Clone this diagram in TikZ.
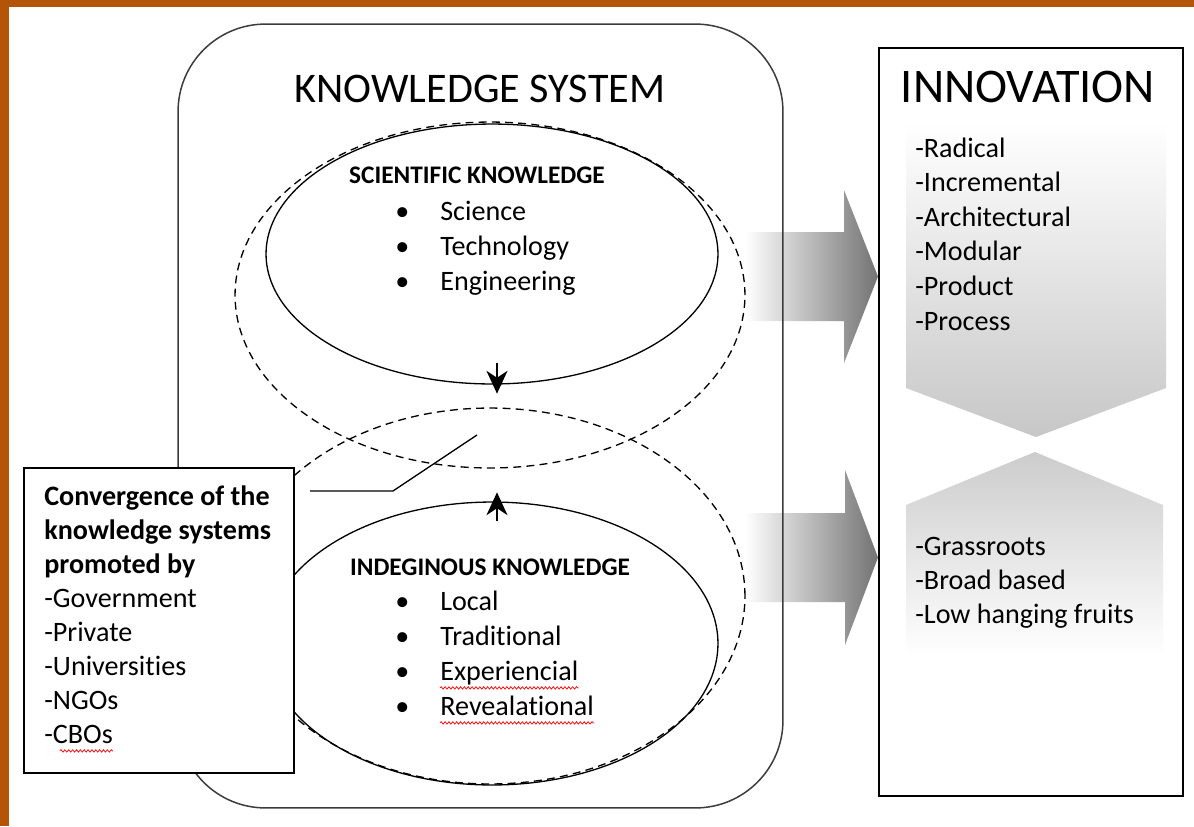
\documentclass[tikz,border=0pt]{standalone}
\usepackage{fontspec}
\setmainfont{Carlito}[Ligatures=NoCommon]
\usetikzlibrary{positioning}
\usetikzlibrary{shapes.geometric}
\usetikzlibrary{arrows.meta}
\usetikzlibrary{decorations.pathmorphing}
\usetikzlibrary{calc}

\definecolor{slideorange}{RGB}{180,84,8}
\definecolor{framegray}{RGB}{60,60,60}

\tikzset{
  txt/.style={font=\fontsize{16}{19}\selectfont, anchor=base west, inner sep=0pt},
  boldtxt/.style={txt, font=\fontsize{16}{19}\selectfont\bfseries},
  head/.style={font=\fontsize{14.4}{17}\selectfont\bfseries, anchor=base, inner sep=0pt},
  bigtitle/.style={font=\fontsize{24}{28}\selectfont, anchor=base, inner sep=0pt},
  solidell/.style={ellipse, draw, line width=0.75pt},
  dashell/.style={ellipse, draw, line width=0.75pt, dash pattern=on 4.5pt off 3pt},
  spell/.style={red, line width=0.4pt, decorate,
    decoration={snake, segment length=2.2pt, amplitude=0.7pt}},
}

\begin{document}
\begin{tikzpicture}[x=0.02cm, y=-0.02cm]
  \useasboundingbox (0,0) rectangle (1194,826);
  \fill[white] (0,0) rectangle (1194,826);
  \fill[slideorange] (0,0) rectangle (1194,7);
  \fill[slideorange] (0,0) rectangle (9,826);

  % shaded arrows towards innovation
  \shade[left color=white, right color=black!55] (745,232) -- (844,232) -- (844,190) -- (878,276.5)
    -- (844,363) -- (844,321) -- (745,321) -- cycle;
  \shade[left color=white, right color=black!55] (745,513) -- (845,513) -- (845,470) -- (878,557.5)
    -- (845,645) -- (845,602) -- (745,602) -- cycle;

  % knowledge system
  \node[draw=framegray, line width=0.85pt, rounded corners=1.75cm,
        minimum width=12.1cm, minimum height=15.68cm] (ks) at (480.5,416) {};
  \node[bigtitle] (kstitle) at (480,102) {KNOWLEDGE SYSTEM};

  \node[dashell, minimum width=10.2cm, minimum height=6.92cm] (upper) at (490,295) {};
  \node[dashell, minimum width=10.2cm, minimum height=7.52cm] (lower) at (490,596) {};
  \node[solidell, minimum width=9.04cm, minimum height=5.2cm] (sci) at (492,254) {};
  \node[solidell, minimum width=9.04cm, minimum height=5.66cm] (ind) at (492,643.5) {};

  \draw[line width=0.75pt, -{Stealth[length=13pt, width=12pt, inset=4pt]}]
    ($(sci.south)+(5,-22)$) -- ($(sci.south)+(5,9)$);
  \draw[line width=0.75pt, -{Stealth[length=13pt, width=12pt, inset=4pt]}]
    ($(ind.north)+(5,20)$) -- ($(ind.north)+(5,-9)$);

  \node[head] (scihead) at (477,183) {SCIENTIFIC KNOWLEDGE};
  \foreach \t [count=\i] in {Science,Technology,Engineering}
    \node[txt] (sci\i) at (440,{185+35*\i}) {\llap{\textbullet\hspace{0.62cm}}\t};

  \node[head] (indhead) at (490,575) {INDEGINOUS KNOWLEDGE};
  \foreach \t [count=\i] in {Local,Traditional,Experiencial,Revealational}
    \node[txt] (ind\i) at (440,{575+35*\i}) {\llap{\textbullet\hspace{0.62cm}}\t};
  \draw[spell] ([yshift=-4.5pt]ind3.base west) -- ([yshift=-4.5pt]ind3.base east);
  \draw[spell] ([yshift=-4.5pt]ind4.base west) -- ([yshift=-4.5pt]ind4.base east);

  % callout pointing at the overlap
  \coordinate (calla) at (310,491);
  \coordinate (callb) at (393,491);
  \coordinate (overlap) at (477,435);
  \draw[line width=0.75pt] (calla) -- (callb) -- (overlap);

  % convergence box
  \node[draw, fill=white, line width=1pt, minimum width=5.4cm, minimum height=6.1cm] (conv) at (159,620.5) {};
  \foreach \t [count=\i from 0] in {Convergence of the,knowledge systems,promoted by}
    \node[boldtxt] (convh\i) at (44,{505+34*\i}) {\t};
  \foreach \t [count=\i from 3] in {Government,Private,Universities,NGOs,CBOs}
    \node[txt] (conv\i) at (44,{505+34*\i}) {-\t};
  \draw[spell] ([yshift=-4.5pt,xshift=9pt]conv7.base west) -- ([yshift=-4.5pt]conv7.base east);

  % innovation
  \node[draw, line width=1pt, minimum width=6.08cm, minimum height=14.96cm] (inno) at (1031,422) {};
  \shade[top color=white, bottom color=black!22] (906,122) -- (1166,122) -- (1166,388) -- (1036,437)
    -- (906,388) -- cycle;
  \shade[top color=black!20, bottom color=white] (1035,452) -- (1163,505) -- (1163,655) -- (906,655)
    -- (906,505) -- cycle;
  \node[bigtitle, font=\fontsize{27.5}{32}\selectfont] (innotitle) at (1028,102) {INNOVATION};
  \foreach \t [count=\i from 0] in {Radical,Incremental,Architectural,Modular,Product,Process}
    \node[txt] (type\i) at (915,{157+34.6*\i}) {-\t};
  \foreach \t [count=\i from 0] in {Grassroots,Broad based,Low hanging fruits}
    \node[txt] (base\i) at (915,{555+34*\i}) {-\t};
\end{tikzpicture}
\end{document}
